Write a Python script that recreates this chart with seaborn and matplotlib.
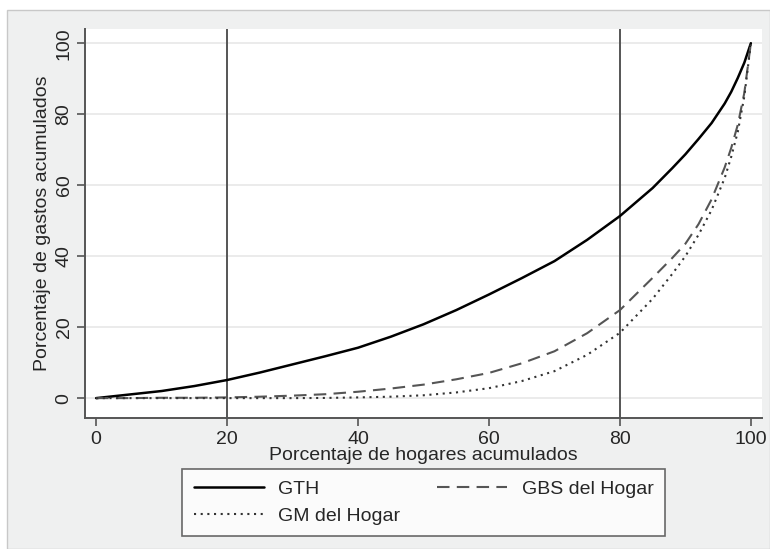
import numpy as np
import pandas as pd
import matplotlib
matplotlib.use("Agg")
import matplotlib.pyplot as plt
from matplotlib.patches import Rectangle
import seaborn as sns

sns.set_style("white")
plt.rcParams['font.family'] = ['Liberation Sans', 'DejaVu Sans']

# values
hogares = [0, 5, 10, 15, 20, 25, 30, 35, 40, 45, 50, 55, 60, 65, 70, 75, 80,
           85, 88, 90, 92, 94, 96, 97, 98, 99, 100]
gth = [0, 1.0, 2.0, 3.4, 5.1, 7.2, 9.5, 11.8, 14.2, 17.3, 20.8, 24.8, 29.2,
       33.8, 38.6, 44.6, 51.3, 59.2, 64.8, 68.7, 73.0, 77.5, 83.0, 86.3, 90.2, 94.5, 100]
gbs = [0, 0, 0.1, 0.1, 0.2, 0.4, 0.7, 1.1, 1.8, 2.7, 3.8, 5.3, 7.1,
       9.8, 13.2, 18.3, 24.8, 33.9, 39.5, 43.5, 49.0, 56.0, 65.0, 70.5, 77.0, 86.0, 100]
gm = [0, 0, 0, 0, 0, 0, 0, 0.05, 0.2, 0.4, 0.8, 1.6, 2.8,
      4.8, 7.6, 12.2, 18.4, 28.0, 35.0, 40.0, 46.0, 53.0, 62.0, 68.0, 75.0, 85.0, 100]
cortes = [20, 80]
xticks = [0, 20, 40, 60, 80, 100]
yticks = [0, 20, 40, 60, 80, 100]

df = pd.DataFrame({'hog': hogares, 'GTH': gth, 'GBS del Hogar': gbs, 'GM del Hogar': gm})

fs = 14
fig = plt.figure(figsize=(7.7, 5.49), dpi=100, facecolor='white')
# stata-like grey background box
fig.patches.append(Rectangle((7/770, 0), 1 - 7/770, 1 - 10/549, transform=fig.transFigure,
                             facecolor='#eff0f0', edgecolor='#c8c8c8', lw=1, zorder=-1))

ax = fig.add_axes([85/770, 1 - 418/549, (762 - 85)/770, (418 - 29)/549])
ax.set_facecolor('white')

for y in yticks:
    ax.axhline(y, color='#e8e8e8', lw=1.2, zorder=0)
for c in cortes:
    ax.axvline(c, color='#555555', lw=1.4, zorder=1)

sns.lineplot(data=df, x='hog', y='GTH', ax=ax, color='black', lw=1.8, label='GTH', zorder=3)
sns.lineplot(data=df, x='hog', y='GBS del Hogar', ax=ax, color='#555555', lw=1.5,
             linestyle=(0, (6, 3.5)), label='GBS del Hogar', zorder=3)
sns.lineplot(data=df, x='hog', y='GM del Hogar', ax=ax, color='#333333', lw=1.5,
             linestyle=(0, (1, 2.2)), label='GM del Hogar', zorder=3)

ax.set_xlim(-1.7, 101.7)
ax.set_ylim(-5.6, 104)
ax.set_xticks(xticks)
ax.set_yticks(yticks)
ax.set_yticklabels([str(t) for t in yticks], rotation=90, va='center')
ax.tick_params(axis='both', direction='out', length=6, width=1.2, color='#555555',
               labelsize=fs, pad=3, bottom=True, left=True)

for s in ['top', 'right']:
    ax.spines[s].set_visible(False)
for s in ['left', 'bottom']:
    ax.spines[s].set_color('#555555')
    ax.spines[s].set_linewidth(1.4)

ax.set_xlabel('Porcentaje de hogares acumulados', fontsize=fs, labelpad=0)
ax.set_ylabel('Porcentaje de gastos acumulados', fontsize=fs, labelpad=3)

h, l = ax.get_legend_handles_labels()
ax.get_legend().remove()
order = [0, 2, 1]
leg = fig.legend([h[i] for i in order], [l[i] for i in order], ncol=2,
                 loc='upper left', bbox_to_anchor=(182/770, 1 - 469/549), borderaxespad=0,
                 fontsize=fs, frameon=True, fancybox=False, handlelength=3.6,
                 handletextpad=0.75, columnspacing=1.9, borderpad=0.6, labelspacing=0.45)
leg.get_frame().set_edgecolor('#444444')
leg.get_frame().set_linewidth(1.2)

fig.savefig('out.png', dpi=100, facecolor=fig.get_facecolor())
